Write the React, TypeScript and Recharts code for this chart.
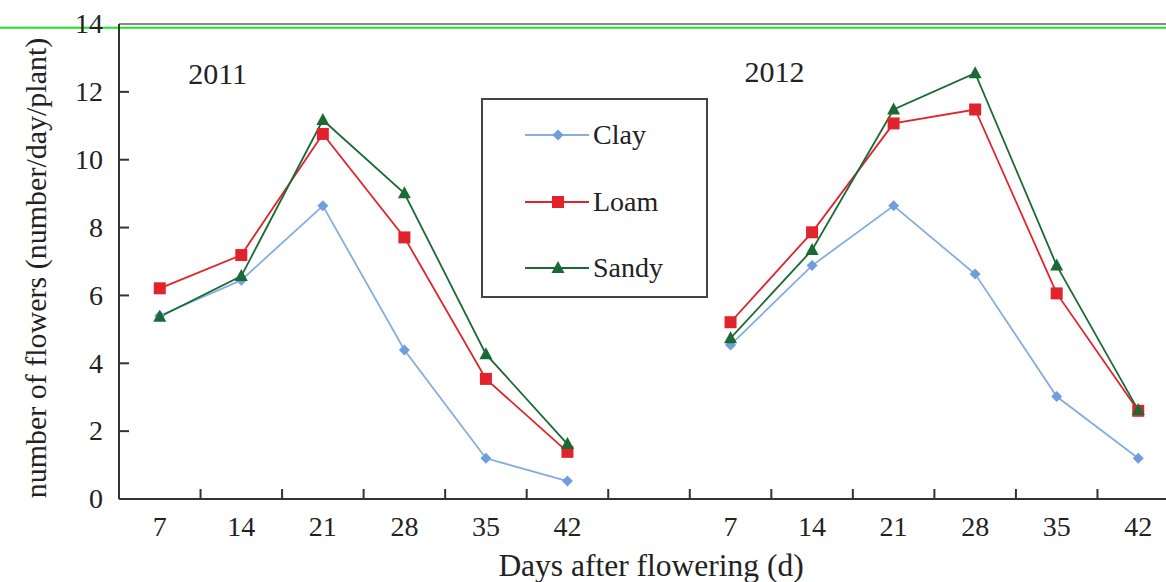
import React from 'react';
import { LineChart, Line, XAxis, YAxis, ReferenceLine, ReferenceDot, Legend } from 'recharts';

// ---- data ----
const xLabels = ['7', '14', '21', '28', '35', '42', '', '7', '14', '21', '28', '35', '42'];
const clay = [5.4, 6.45, 8.64, 4.39, 1.2, 0.53, null, 4.54, 6.88, 8.64, 6.63, 3.02, 1.2];
const loam = [6.21, 7.19, 10.76, 7.71, 3.54, 1.39, null, 5.21, 7.86, 11.07, 11.48, 6.06, 2.6];
const sandy = [5.37, 6.57, 11.17, 9.01, 4.27, 1.62, null, 4.74, 7.34, 11.48, 12.55, 6.88, 2.62];
const yTicks = [0, 2, 4, 6, 8, 10, 12, 14];
const xTicks = [...xLabels.map((_, i) => i), xLabels.length];
const yearLabels = ['2011', '2012'];

const data = xLabels.map((label, i) => ({
  x: i + 0.5,
  label,
  clay: clay[i],
  loam: loam[i],
  sandy: sandy[i],
}));

// ---- layout / style ----
const FONT = '"Liberation Serif", "Times New Roman", serif';
const CHART_W = 1179;
const CHART_H = 582;
const Y_AXIS_W = 119;
const X_AXIS_H = 83;
const TOP = 24;
const N_CAT = xLabels.length;
const CAT_W = (CHART_W - Y_AXIS_W) / N_CAT;
const AXIS_COLOR = '#333';
const CLAY_C = '#6e9fdc';
const CLAY_LINE = '#86addf';
const LOAM_C = '#e2232b';
const SANDY_C = '#1b6a35';
const TICK_FS = 28;
const LABEL_FS = 30;

const Diamond = (props: any) => {
  const { cx, cy } = props;
  if (cx == null || cy == null || props.value == null) return null;
  const r = 5.5;
  return <polygon points={`${cx},${cy - r} ${cx + r},${cy} ${cx},${cy + r} ${cx - r},${cy}`} fill={CLAY_C} />;
};
const Square = (props: any) => {
  const { cx, cy } = props;
  if (cx == null || cy == null || props.value == null) return null;
  const r = 6;
  return <rect x={cx - r} y={cy - r} width={2 * r} height={2 * r} fill={LOAM_C} />;
};
const Triangle = (props: any) => {
  const { cx, cy } = props;
  if (cx == null || cy == null || props.value == null) return null;
  return <polygon points={`${cx},${cy - 7} ${cx + 6.5},${cy + 5} ${cx - 6.5},${cy + 5}`} fill={SANDY_C} />;
};

const X_MARGIN = 18;
const XTick = (props: any) => {
  const { x, y, payload } = props;
  const v = payload.value as number;
  const axisY = y - X_MARGIN;
  const lbl = xLabels[v];
  return (
    <g>
      {v > 0 && <line x1={x} x2={x} y1={axisY} y2={axisY - 10} stroke={AXIS_COLOR} strokeWidth={2} />}
      {lbl && (
        <text x={x + CAT_W / 2} y={y} dy="0.68em" textAnchor="middle" fontFamily={FONT} fontSize={TICK_FS} fill="#222">
          {lbl}
        </text>
      )}
    </g>
  );
};

const Y_MARGIN = 16;
const YTick = (props: any) => {
  const { x, y, payload } = props;
  const axisX = x + Y_MARGIN;
  return (
    <g>
      {payload.value > 0 && payload.value < 14 && (
        <line x1={axisX} x2={axisX + 10} y1={y} y2={y} stroke={AXIS_COLOR} strokeWidth={2} />
      )}
      <text x={x} y={y} dy="0.33em" textAnchor="end" fontFamily={FONT} fontSize={TICK_FS} fill="#222">
        {payload.value}
      </text>
    </g>
  );
};

const legendItems = [
  { name: 'Clay', color: CLAY_LINE, marker: 'diamond' },
  { name: 'Loam', color: LOAM_C, marker: 'square' },
  { name: 'Sandy', color: SANDY_C, marker: 'triangle' },
];

const LegendBox = () => (
  <div
    style={{
      width: 227,
      height: 200,
      boxSizing: 'border-box',
      border: '2px solid #444',
      background: '#fff',
      position: 'absolute',
      left: 0,
      top: 0,
      fontFamily: FONT,
    }}
  >
    {legendItems.map((it, i) => {
      const cy = 35 + i * 66.5;
      return (
        <div key={it.name} style={{ position: 'absolute', left: 0, top: cy - 20, height: 40, width: '100%' }}>
          <svg width={110} height={40} style={{ position: 'absolute', left: 0, top: 0 }}>
            <line x1={42} x2={106} y1={20} y2={20} stroke={it.color} strokeWidth={1.8} />
            {it.marker === 'diamond' && <Diamond cx={75} cy={20} value={1} />}
            {it.marker === 'square' && <Square cx={75} cy={20} value={1} />}
            {it.marker === 'triangle' && <Triangle cx={75} cy={20} value={1} />}
          </svg>
          <span
            style={{
              position: 'absolute',
              left: 110,
              top: 0,
              lineHeight: '40px',
              fontSize: 28,
              color: '#222',
              fontFamily: FONT,
            }}
          >
            {it.name}
          </span>
        </div>
      );
    })}
  </div>
);

const GreenLine = (props: any) => (
  <line x1={0} x2={CHART_W} y1={props.y1} y2={props.y1} stroke="#1ee61e" strokeWidth={2} />
);

const YearLabel = (text: string) => (props: any) => {
  const { viewBox } = props;
  const cx = viewBox.x + (viewBox.width || 0) / 2;
  const cy = viewBox.y + (viewBox.height || 0) / 2;
  return (
    <text x={cx} y={cy} dy="0.35em" textAnchor="middle" fontFamily={FONT} fontSize={30} fill="#222">
      {text}
    </text>
  );
};

export default function App() {
  return (
    <div
      style={{
        position: 'absolute',
        left: 0,
        top: 0,
        width: 1166,
        height: 582,
        overflow: 'hidden',
        background: '#fff',
      }}
    >
      <LineChart width={CHART_W} height={CHART_H} data={data} margin={{ top: TOP, right: 0, left: 0, bottom: 0 }}>
        <XAxis
          dataKey="x"
          type="number"
          domain={[0, N_CAT]}
          ticks={xTicks}
          interval={0}
          height={X_AXIS_H}
          tickSize={0}
          tickMargin={X_MARGIN}
          tick={<XTick />}
          axisLine={{ stroke: AXIS_COLOR, strokeWidth: 2 }}
          label={{
            content: () => (
              <text x={651} y={576} textAnchor="middle" fontFamily={FONT} fontSize={31.5} fill="#222">
                Days after flowering (d)
              </text>
            ),
          }}
        />
        <YAxis
          type="number"
          domain={[0, 14]}
          ticks={yTicks}
          interval={0}
          width={Y_AXIS_W}
          tickSize={0}
          tickMargin={Y_MARGIN}
          tick={<YTick />}
          axisLine={{ stroke: AXIS_COLOR, strokeWidth: 2 }}
          label={{
            content: () => (
              <text
                transform="translate(35,268) rotate(-90)"
                textAnchor="middle"
                dominantBaseline="central"
                fontFamily={FONT}
                fontSize={LABEL_FS}
                fill="#222"
              >
                number of flowers (number/day/plant)
              </text>
            ),
          }}
        />
        <ReferenceLine y={14} stroke="#888" strokeWidth={2} ifOverflow="visible" />
        <ReferenceLine y={13.89} ifOverflow="visible" shape={GreenLine} />
        <ReferenceDot x={1.21} y={12.55} r={0} fill="none" stroke="none" label={YearLabel(yearLabels[0])} ifOverflow="visible" />
        <ReferenceDot x={8.04} y={12.6} r={0} fill="none" stroke="none" label={YearLabel(yearLabels[1])} ifOverflow="visible" />
        <Legend
          content={<LegendBox />}
          wrapperStyle={{ position: 'absolute', left: 481, top: 98, width: 0, height: 0, overflow: 'visible' }}
        />
        <Line
          dataKey="clay"
          name="Clay"
          stroke={CLAY_LINE}
          strokeWidth={1.8}
          dot={<Diamond />}
          activeDot={false}
          isAnimationActive={false}
          connectNulls={false}
        />
        <Line
          dataKey="loam"
          name="Loam"
          stroke={LOAM_C}
          strokeWidth={1.8}
          dot={<Square />}
          activeDot={false}
          isAnimationActive={false}
          connectNulls={false}
        />
        <Line
          dataKey="sandy"
          name="Sandy"
          stroke={SANDY_C}
          strokeWidth={1.8}
          dot={<Triangle />}
          activeDot={false}
          isAnimationActive={false}
          connectNulls={false}
        />
      </LineChart>
    </div>
  );
}
